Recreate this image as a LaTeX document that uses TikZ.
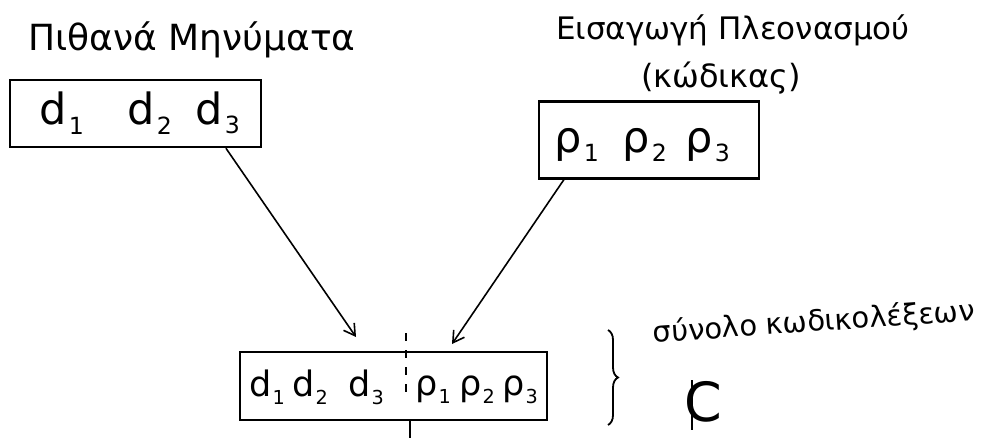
\documentclass[tikz,border=0pt]{standalone}
\usepackage{graphicx}
\usepackage{fontspec}
\setmainfont{DejaVu Sans}
\usetikzlibrary{arrows.meta,decorations.pathreplacing,calc}
\newcommand\symsub[2]{#1\kern0.04em\raisebox{-0.22em}{\scalebox{0.55}{#2}}}
\begin{document}
\begin{tikzpicture}[x=1pt,y=-1pt,
  box/.style={draw,line width=2.4pt,rectangle,inner sep=0pt},
  title/.style={inner sep=0pt},
  sym/.style={inner sep=0pt,font=\fontsize{43}{46}\selectfont},
  symb/.style={inner sep=0pt,font=\fontsize{35}{38}\selectfont},
  arr/.style={line width=1.6pt,-{Straight Barb[length=11pt,width=13pt,line width=1.6pt]}},
  ln/.style={line width=1.8pt}]
\path[use as bounding box] (0,0) rectangle (995,438);
% titles
\node[title,font=\fontsize{36}{40}\selectfont] (t1) at (192,40) {Πιθανά Μηνύματα};
\node[title,font=\fontsize{31}{35}\selectfont] (t2) at (733,30) {Εισαγωγή Πλεονασμού};
\node[title,font=\fontsize{32}{36}\selectfont] (t3) at (721,78) {(κώδικας)};
% boxes
\node[box,minimum width=251,minimum height=67] (b1) at (135.5,113.5) {};
\node[sym] (d1a) at (62,113) {\symsub{d}{1}};
\node[sym] (d2a) at (150,113) {\symsub{d}{2}};
\node[sym] (d3a) at (218,113) {\symsub{d}{3}};
\node[box,minimum width=220,minimum height=77] (b2) at (649,140) {};
\node[sym] (p1a) at (577,145) {\symsub{ρ}{1}};
\node[sym] (p2a) at (645,145) {\symsub{ρ}{2}};
\node[sym] (p3a) at (708,145) {\symsub{ρ}{3}};
\node[box,minimum width=307,minimum height=68] (b3) at (393.5,386) {};
\node[symb] (d1b) at (267,387) {\symsub{d}{1}};
\node[symb] (d2b) at (310,387) {\symsub{d}{2}};
\node[symb] (d3b) at (366,387) {\symsub{d}{3}};
\node[symb] (p1b) at (433,390) {\symsub{ρ}{1}};
\node[symb] (p2b) at (477,390) {\symsub{ρ}{2}};
\node[symb] (p3b) at (520,390) {\symsub{ρ}{3}};
% dashed divider
\coordinate (dtop) at (406,333);
\coordinate (dbot) at (406,400);
\draw[line width=1.6pt,dash pattern=on 8pt off 9pt] (dtop) -- (dbot);
% stem below
\coordinate (stem) at (410,438);
\draw[ln] (stem |- b3.south) -- (stem);
% arrows
\coordinate (a1e) at (356,337);
\coordinate (a2e) at (452,344);
\draw[arr] (b1.-21) -- (a1e);
\draw[arr] (b2.-155) -- (a2e);
% brace and label
\coordinate (brt) at (608,330);
\coordinate (brb) at (608,425);
\draw[ln,decorate,decoration={brace,amplitude=10pt}] (brt) -- (brb);
\node[font=\fontsize{29}{33}\selectfont,rotate=4,inner sep=0pt] (set) at (814,323) {σύνολο κωδικολέξεων};
\node[font=\fontsize{54}{58}\selectfont,inner sep=0pt] (cc) at (703,402) {C};
\coordinate (cbt) at (692,380);
\coordinate (cbb) at (692,430);
\draw[ln] (cbt) -- (cbb);
\end{tikzpicture}
\end{document}
